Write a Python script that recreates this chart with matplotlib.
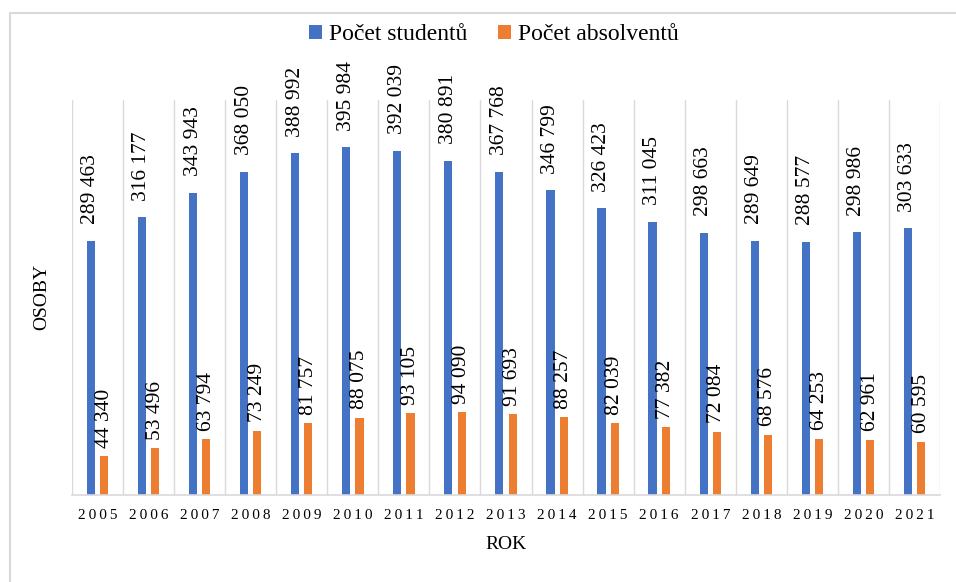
import matplotlib.pyplot as plt
import numpy as np
from matplotlib.patches import Rectangle

years = [str(y) for y in range(2005, 2022)]
studenti = [289463, 316177, 343943, 368050, 388992, 395984, 392039, 380891, 367768,
            346799, 326423, 311045, 298663, 289649, 288577, 298986, 303633]
absolventi = [44340, 53496, 63794, 73249, 81757, 88075, 93105, 94090, 91693,
              88257, 82039, 77382, 72084, 68576, 64253, 62961, 60595]

plt.rcParams['font.family'] = ['Liberation Serif', 'DejaVu Serif']

fig = plt.figure(figsize=(9.56, 5.82), dpi=100)
ax = fig.add_axes([0.0753, 0.1495, 0.908, 0.679])

x = np.arange(len(years))
w = 0.16
b1 = ax.bar(x - 0.13, studenti, w, color='#4472C4', label='Počet studentů')
b2 = ax.bar(x + 0.13, absolventi, w, color='#ED7D31', label='Počet absolventů')

def fmt(v):
    return f'{v:,}'.replace(',', ' ')

for bars, vals, off in [(b1, studenti, 12), (b2, absolventi, 6)]:
    for rect, v in zip(bars, vals):
        ax.annotate(fmt(v), (rect.get_x() + rect.get_width() / 2, v),
                    xytext=(0, off), textcoords='offset points', rotation=90,
                    ha='center', va='bottom', fontsize=15.5)

ax.set_xlim(-0.5, len(years) - 0.5)
ax.set_ylim(0, 450000)
ax.set_xticks(x)
# letter-spaced year labels
ax.set_xticklabels(['\u2009'.join(y) for y in years], fontsize=11)
ax.tick_params(axis='x', length=0, pad=10)
ax.set_yticks([])
for b in np.arange(-0.5, len(years), 1):
    ax.axvline(b, color='#d9d9d9', lw=1, zorder=0)
for s in ['top', 'right', 'left']:
    ax.spines[s].set_visible(False)
ax.spines['bottom'].set_color('#d9d9d9')
ax.spines['bottom'].set_linewidth(1.2)

ax.set_xlabel('ROK', fontsize=14, labelpad=10)
ax.set_ylabel('OSOBY', fontsize=14, labelpad=16)

fig.legend(loc='center', bbox_to_anchor=(0.517, 0.94), ncol=2, frameon=False,
           fontsize=17, handlelength=0.55, handleheight=0.55, handletextpad=0.3,
           columnspacing=1.3)

fig.patches.append(Rectangle((0.0105, -0.05), 1.1, 1.0277, transform=fig.transFigure,
                             fill=False, edgecolor='#d9d9d9', lw=1.5))

fig.savefig('out.png', dpi=100)
